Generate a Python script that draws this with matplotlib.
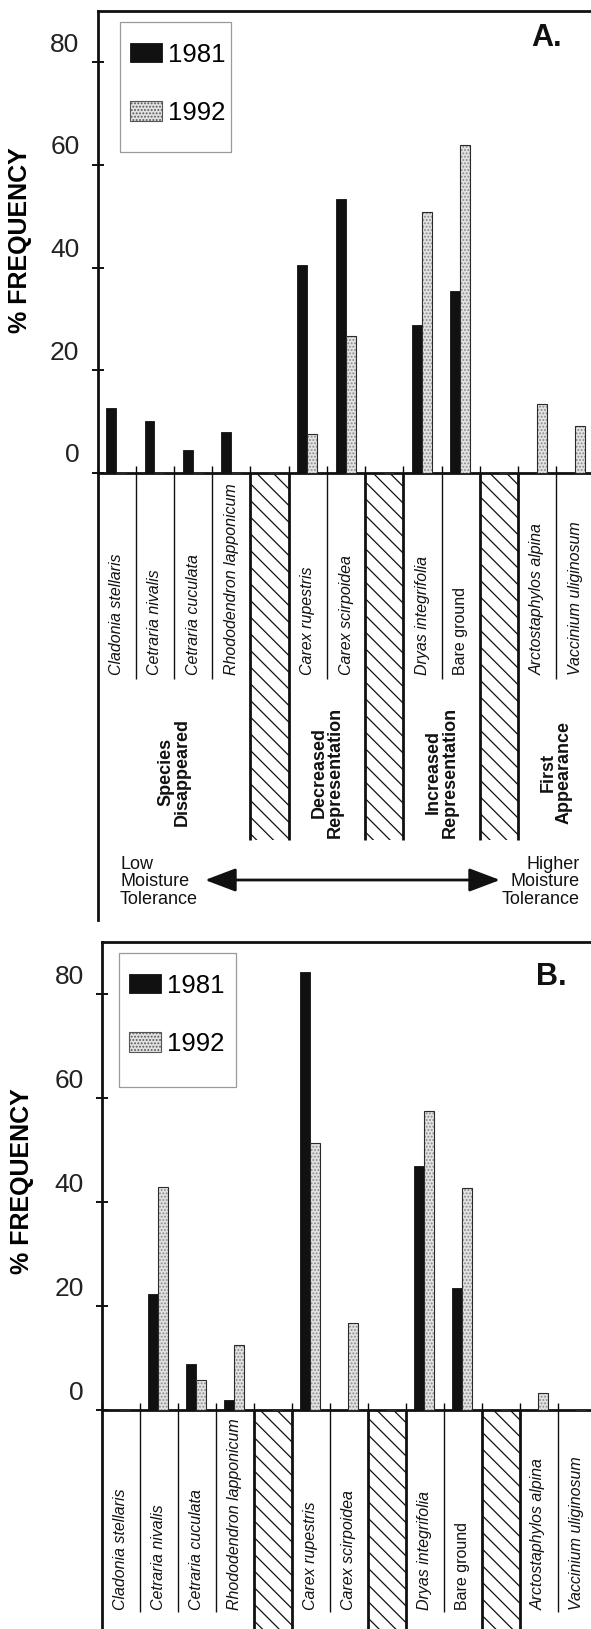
import matplotlib
matplotlib.use("Agg")
import matplotlib.pyplot as plt
from matplotlib.patches import Rectangle
from matplotlib.transforms import ScaledTranslation

plt.rcParams['font.family'] = ['Liberation Sans', 'DejaVu Sans']
plt.rcParams['hatch.linewidth'] = 0.9

# ---------------- data ----------------
slots = ["Cladonia stellaris", "Cetraria nivalis", "Cetraria cuculata",
         "Rhododendron lapponicum", None, "Carex rupestris", "Carex scirpoidea",
         None, "Dryas integrifolia", "Bare ground", None,
         "Arctostaphylos alpina", "Vaccinium uliginosum"]
italic = [True, True, True, True, None, True, True, None, True, False, None, True, True]
groups = ["Species\nDisappeared", "Decreased\nRepresentation",
          "Increased\nRepresentation", "First\nAppearance"]
group_slots = [(0, 4), (5, 7), (8, 10), (11, 13)]
hatched_slots = [4, 7, 10]
species_separators = [1, 2, 3, 6, 9, 12]
years = ["1981", "1992"]
yticks = [0, 20, 40, 60, 80]

# Panel A (% frequency); 0 = absent
a_1981 = [12.7, 10.0, 4.4, 8.0, 0, 40.5, 53.3, 0, 28.7, 35.5, 0, 0, 0]
a_1992 = [0, 0, 0, 0, 0, 7.5, 26.7, 0, 50.9, 63.9, 0, 13.3, 9.1]
# Panel B
b_1981 = [0, 22.4, 8.8, 1.9, 0, 84.3, 0, 0, 46.9, 23.4, 0, 0, 0]
b_1992 = [0, 42.8, 5.8, 12.5, 0, 51.3, 16.8, 0, 57.5, 42.6, 0, 3.3, 0]

# ---------------- layout (pixels) ----------------
W, H, DPI = 591, 1629, 100
fig = plt.figure(figsize=(W / DPI, H / DPI), dpi=DPI)

BLACK = '#111111'


def make_panel(left, right, top, bottom, zero, vals81, vals92, letter,
               label_bottom, sep_end, hatch_end, leg_box, ylab_xy, letter_xy,
               draw_groups):
    ppu = (zero - top) / 90.0
    ymin = -(bottom - zero) / ppu
    ax = fig.add_axes([left / W, 1 - bottom / H, (right - left) / W, (bottom - top) / H])
    ax.set_xlim(0, len(slots))
    ax.set_ylim(ymin, 90)

    def ypx(p):
        return (zero - p) / ppu

    def xpx(p):
        return (p - left) / ((right - left) / len(slots))

    def ax_x(p):
        return (p - left) / (right - left)

    def ax_y(p):
        return (bottom - p) / (bottom - top)

    for s in ['right', 'bottom', 'top', 'left']:
        ax.spines[s].set_linewidth(2)
        ax.spines[s].set_color(BLACK)
    ax.spines['right'].set_visible(False)
    ax.spines['bottom'].set_position(('data', 0))

    xs = list(range(len(slots)))
    w = 0.26
    ax.bar([x + 0.36 for x in xs], vals81, width=w, color=BLACK, edgecolor=BLACK,
           linewidth=0.6, zorder=3)
    ax.bar([x + 0.62 for x in xs], vals92, width=w, color='#e2e2e2', edgecolor='#8a8a8a',
           hatch='.....', linewidth=0, zorder=3)
    ax.bar([x + 0.62 for x in xs], vals92, width=w, fill=False,
           edgecolor='#2a2a2a', linewidth=0.8, zorder=3.5)

    # legend (entries from proxies, frame drawn as a box)
    h81 = Rectangle((0, 0), 1, 1, facecolor=BLACK, edgecolor=BLACK, linewidth=0.6)
    h92 = Rectangle((0, 0), 1, 1, facecolor='#e2e2e2', edgecolor='#555555',
                    hatch='.....', linewidth=0.8)
    lx0, ly0, lx1, ly1 = leg_box
    ax.legend([h81, h92], years, loc='upper left',
              bbox_to_anchor=(ax_x(lx0 - 2), ax_y(ly0 + 9)),
              borderaxespad=0, fontsize=18.5, handlelength=1.25, handleheight=0.8,
              handletextpad=0.25, labelspacing=1.33, borderpad=0.45,
              frameon=False)
    ax.add_patch(Rectangle((ax_x(lx0), ax_y(ly1)), ax_x(lx1) - ax_x(lx0),
                           ax_y(ly0) - ax_y(ly1), transform=ax.transAxes, fill=False,
                           edgecolor='#9a9a9a', linewidth=0.9, zorder=4))

    # y axis
    ax.set_yticks(yticks)
    ax.set_yticklabels([str(t) for t in yticks])
    ax.tick_params(axis='y', direction='inout', length=9, width=1.4, pad=8.5,
                   labelsize=19, colors=BLACK)
    off = ScaledTranslation(0, 20 / DPI, fig.dpi_scale_trans)
    for lab in ax.get_yticklabels():
        lab.set_transform(lab.get_transform() + off)
        lab.set_color('#222222')
    ax.set_ylabel('% FREQUENCY', fontsize=18, fontweight='bold', va='center', ha='center')
    ax.yaxis.set_label_coords(ax_x(ylab_xy[0]), ax_y(ylab_xy[1]))

    # x axis: slot boundary ticks pointing up
    ax.set_xticks(range(len(slots) + 1))
    ax.set_xticklabels([])
    ax.tick_params(axis='x', direction='in', length=5, width=1.0)

    # table region
    ax.vlines(species_separators, ypx(sep_end), 0, color=BLACK, linewidth=1.0)
    for hs in hatched_slots:
        ax.add_patch(Rectangle((hs, ypx(hatch_end)), 1, -ypx(hatch_end), fill=False,
                               hatch='\\\\', edgecolor=BLACK, linewidth=0, zorder=1))
        ax.vlines([hs, hs + 1], ypx(hatch_end), 0, color=BLACK, linewidth=2.0)
    for i, name in enumerate(slots):
        if name is None:
            continue
        ax.text(i + 0.5, ypx(label_bottom), name, rotation=90, ha='center', va='bottom',
                fontsize=11.5, style='italic' if italic[i] else 'normal', color=BLACK)

    if draw_groups:
        for g, (a, b) in zip(groups, group_slots):
            ax.text((a + b) / 2.0, ypx(772), g, rotation=90, ha='center', va='center',
                    fontsize=13, fontweight='bold', linespacing=0.95,
                    multialignment='center', color=BLACK)
        yarrow = ypx(880)
        ax.annotate('', xy=(xpx(500), yarrow), xytext=(xpx(205), yarrow),
                    arrowprops=dict(arrowstyle='<|-|>,head_length=0.95,head_width=0.36',
                                    mutation_scale=20, lw=2, color=BLACK,
                                    shrinkA=0, shrinkB=0))
        ax.text(xpx(120), ypx(882), 'Low\nMoisture\nTolerance', ha='left', va='center',
                fontsize=13, linespacing=1.05, color=BLACK)
        ax.text(xpx(580), ypx(882), 'Higher\nMoisture\nTolerance', ha='right', va='center',
                fontsize=13, linespacing=1.05, multialignment='right', color=BLACK)

    ax.text(ax_x(letter_xy[0]), ax_y(letter_xy[1]), letter, transform=ax.transAxes,
            ha='center', va='center', fontsize=22, fontweight='bold', color=BLACK)
    return ax


make_panel(left=97.5, right=594.6, top=11, bottom=920, zero=472.7,
           vals81=a_1981, vals92=a_1992, letter='A.',
           label_bottom=675, sep_end=679, hatch_end=840,
           leg_box=(120, 22, 231, 152), ylab_xy=(20.5, 240), letter_xy=(547, 38),
           draw_groups=True)

make_panel(left=101.7, right=595.7, top=942, bottom=1629, zero=1410,
           vals81=b_1981, vals92=b_1992, letter='B.',
           label_bottom=1610, sep_end=1612, hatch_end=1629,
           leg_box=(119, 953, 236, 1087), ylab_xy=(21.7, 1181), letter_xy=(551, 977),
           draw_groups=False)

fig.savefig('out.png', dpi=DPI)
